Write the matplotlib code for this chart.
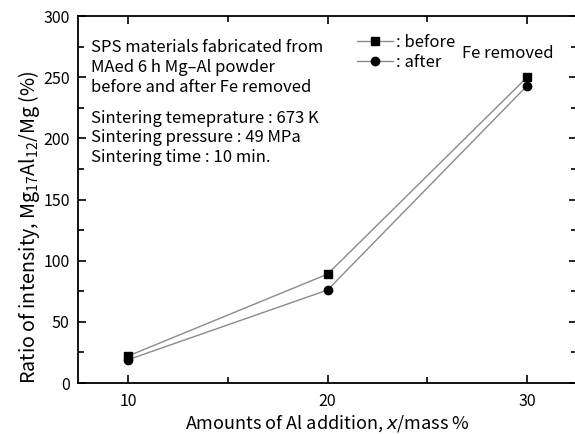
import matplotlib.pyplot as plt
import numpy as np
from matplotlib.lines import Line2D
from matplotlib.ticker import MultipleLocator

plt.rcParams['font.family'] = ['Noto Sans CJK JP', 'DejaVu Sans']
plt.rcParams['mathtext.fontset'] = 'custom'
plt.rcParams['mathtext.rm'] = 'Noto Sans CJK JP'
plt.rcParams['mathtext.it'] = 'DejaVu Sans:italic'

al_addition = [10, 20, 30]
ratio_before = [22, 89, 250]
ratio_after = [19, 76, 243]

fig = plt.figure(figsize=(5.75, 4.34), dpi=100)
ax = fig.add_axes([0.1357, 0.1175, 0.8678, 0.8456])

line_col = '#8a8a8a'
ax.plot(al_addition, ratio_before, color=line_col, lw=1.0, zorder=2)
ax.plot(al_addition, ratio_after, color=line_col, lw=1.0, zorder=2)
ax.plot(al_addition, ratio_before, 's', color='black', ms=6, zorder=3)
ax.plot(al_addition, ratio_after, 'o', color='black', ms=6, zorder=3)

ax.set_xlim(7.5, 32.5)
ax.set_ylim(0, 300)
ax.xaxis.set_major_locator(MultipleLocator(10))
ax.xaxis.set_minor_locator(MultipleLocator(5))
ax.yaxis.set_major_locator(MultipleLocator(50))
ax.yaxis.set_minor_locator(MultipleLocator(25))
ax.tick_params(which='both', direction='in', top=True, right=True, labelsize=11.5, width=1.2)
ax.tick_params(which='major', length=6)
ax.tick_params(which='minor', length=4)
ax.tick_params(axis='x', pad=7)
ax.tick_params(axis='y', pad=6)
for s in ax.spines.values():
    s.set_linewidth(1.3)

ax.set_xlabel('Amounts of Al addition, $x$/mass %', fontsize=13, labelpad=2)
ax.set_ylabel('Ratio of intensity, Mg$_{17}$Al$_{12}$/Mg (%)', fontsize=14.2)
ax.yaxis.set_label_coords(-0.072, 0.425)

info = ('SPS materials fabricated from\nMAed 6 h Mg\u2013Al powder\n'
        'before and after Fe removed')
ax.text(0.025, 0.937, info, transform=ax.transAxes, fontsize=12,
        va='top', ha='left', linespacing=1.22)
cond = ('Sintering temeprature : 673 K\nSintering pressure : 49 MPa\n'
        'Sintering time : 10 min.')
ax.text(0.025, 0.745, cond, transform=ax.transAxes, fontsize=12,
        va='top', ha='left', linespacing=1.22)

handles = [
    Line2D([], [], color=line_col, lw=1.0, marker='s', mfc='black', mec='black', ms=6),
    Line2D([], [], color=line_col, lw=1.0, marker='o', mfc='black', mec='black', ms=6),
]
ax.legend(handles, [': before', ': after'], loc='upper left',
          bbox_to_anchor=(0.545, 0.97), frameon=False, fontsize=12,
          handlelength=2.2, handletextpad=0.15, labelspacing=0.2,
          borderaxespad=0)
ax.text(0.77, 0.898, 'Fe removed', transform=ax.transAxes, fontsize=12,
        va='center', ha='left')

fig.savefig('out.png', dpi=100)
